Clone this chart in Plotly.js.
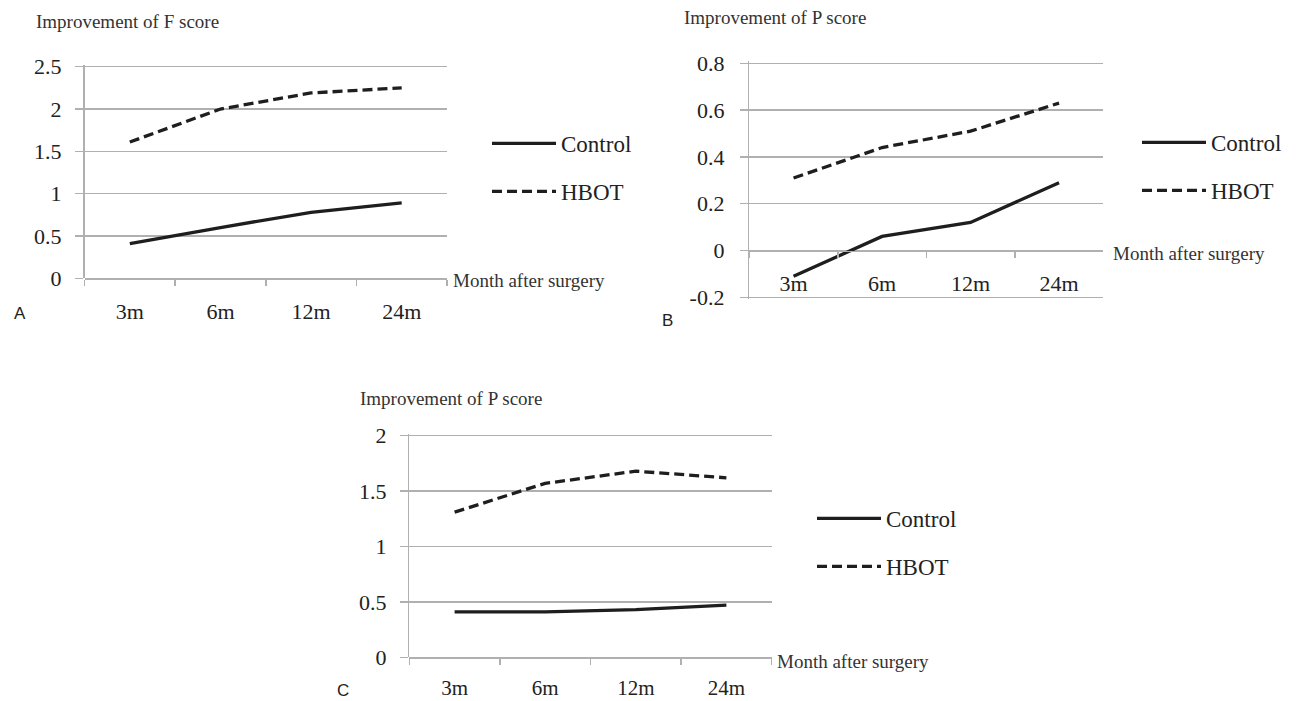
<!DOCTYPE html>
<html>
<head>
<meta charset="utf-8">
<script src="https://cdn.plot.ly/plotly-3.0.1.min.js"></script>
<style>
  html, body { margin: 0; padding: 0; background: #fff; }
  #chart { width: 1308px; height: 701px; }
</style>
</head>
<body>
<div id="chart"></div>
<script>
// ---- data ----
const categories = ['3m', '6m', '12m', '24m'];
const seriesNames = ['Control', 'HBOT'];

// Panel A: Improvement of F score
const controlF = [0.41, 0.60, 0.78, 0.89];
const hbotF = [1.61, 2.00, 2.19, 2.25];

// Panel B: Improvement of P score
const controlPB = [-0.11, 0.06, 0.12, 0.29];
const hbotPB = [0.31, 0.44, 0.51, 0.63];

// Panel C: Improvement of P score
const controlPC = [0.41, 0.41, 0.43, 0.47];
const hbotPC = [1.31, 1.57, 1.68, 1.62];

// tick labels
const yTicksA = [0, 0.5, 1, 1.5, 2, 2.5];
const yTickTextA = ['0', '0.5', '1', '1.5', '2', '2.5'];
const yTicksB = [-0.2, 0, 0.2, 0.4, 0.6, 0.8];
const yTickTextB = ['-0.2', '0', '0.2', '0.4', '0.6', '0.8'];
const yTicksC = [0, 0.5, 1, 1.5, 2];
const yTickTextC = ['0', '0.5', '1', '1.5', '2'];

const panelTitles = ['Improvement of F score', 'Improvement of P score', 'Improvement of P score'];
const xTitle = 'Month after surgery';
const panelLetters = ['A', 'B', 'C'];

// ---- styling ----
const W = 1308, H = 701;
const px = v => v / W;
const py = v => 1 - v / H;
const GRID = '#b0b0b0';
const INK = '#1e1e1e';
const tickFont = { family: 'Liberation Serif', size: 22, color: '#222' };
const solid = { color: INK, width: 3.3, dash: 'solid' };
const dashed = { color: INK, width: 3.3, dash: '10px,5px' };

function mkTraces(ctrl, hbot, n) {
  const sfx = n === 1 ? '' : String(n);
  return [
    { x: categories, y: ctrl, name: seriesNames[0], type: 'scatter', mode: 'lines',
      line: solid, xaxis: 'x' + sfx, yaxis: 'y' + sfx, legend: 'legend' + sfx,
      legendgroup: 'c' + n, hoverinfo: 'skip' },
    { x: categories, y: hbot, name: seriesNames[1], type: 'scatter', mode: 'lines',
      line: dashed, xaxis: 'x' + sfx, yaxis: 'y' + sfx, legend: 'legend' + sfx,
      legendgroup: 'h' + n, hoverinfo: 'skip' }
  ];
}

const data = [
  ...mkTraces(controlF, hbotF, 1),
  ...mkTraces(controlPB, hbotPB, 2),
  ...mkTraces(controlPC, hbotPC, 3)
];

function xAxis(domain, extra) {
  return Object.assign({
    type: 'category', domain: domain, range: [-0.5, 3.5],
    tickson: 'boundaries', ticks: 'outside', ticklen: 6, tickwidth: 1.5, tickcolor: GRID,
    showline: true, linecolor: GRID, linewidth: 1.5,
    showgrid: false, zeroline: false, tickfont: tickFont, ticklabelstandoff: 13,
    fixedrange: true
  }, extra);
}
// box: pixel geometry of the plot area at the outer gridlines; lo/hi: values there.
// padT / padB: extra pixels of plot area beyond the outer gridlines.
function yAxis(box, lo, hi, padT, padB, vals, text, extra) {
  const k = (hi - lo) / (box.b - box.t);
  return Object.assign({
    domain: [py(box.b + padB), py(box.t - padT)], range: [lo - k * padB, hi + k * padT],
    tickmode: 'array', tickvals: vals, ticktext: text,
    showgrid: true, gridcolor: GRID, gridwidth: 1.5,
    ticks: 'outside', ticklen: 8, tickwidth: 1.5, tickcolor: GRID,
    showline: true, linecolor: GRID, linewidth: 1.5, zeroline: false,
    tickfont: tickFont, ticklabelstandoff: 10, fixedrange: true
  }, extra);
}

// plot-area geometry (pixels in the reference)
const A = { l: 84.5, r: 447, t: 66.7, b: 278.3 };
const B = { l: 749.3, r: 1103.3, t: 63.3, b: 297.3 };
const C = { l: 409.3, r: 771.7, t: 435.7, b: 657.3 };
const bZeroY = B.b - (B.b - B.t) * (0 - yTicksB[0]) / (yTicksB[yTicksB.length - 1] - yTicksB[0]);
const PADT = 2, PADB = 2;

function legendAt(xPix, yPix) {
  return {
    x: px(xPix), y: py(yPix), xanchor: 'left', yanchor: 'top',
    bgcolor: 'rgba(0,0,0,0)', borderwidth: 0,
    font: { family: 'Liberation Serif', size: 23, color: '#222' },
    traceorder: 'grouped', tracegroupgap: 15, itemwidth: 64
  };
}

const annFontTitle = { family: 'Liberation Serif', size: 19, color: '#333' };
const annFontLetter = { family: 'Liberation Sans', size: 17, color: '#222' };
function ann(text, xPix, yPix, font) {
  return { text: text, x: px(xPix), y: py(yPix), xref: 'paper', yref: 'paper',
           xanchor: 'left', yanchor: 'middle', showarrow: false, font: font };
}

const layout = {
  width: W, height: H,
  margin: { l: 0, r: 0, t: 0, b: 0 },
  paper_bgcolor: '#fff', plot_bgcolor: 'rgba(0,0,0,0)',
  showlegend: true,
  xaxis: xAxis([px(A.l), px(A.r)], { anchor: 'free', position: py(A.b) }),
  yaxis: yAxis(A, 0, 2.5, PADT, 0, yTicksA, yTickTextA, { anchor: 'x', ticklabelstandoff: 9 }),
  xaxis2: xAxis([px(B.l), px(B.r)], { anchor: 'free', position: py(bZeroY) }),
  yaxis2: yAxis(B, -0.2, 0.8, PADT, PADB, yTicksB, yTickTextB, { anchor: 'x2', ticklabelstandoff: 11 }),
  xaxis3: xAxis([px(C.l), px(C.r)], { anchor: 'free', position: py(C.b), ticklabelstandoff: 11,
                 tickfont: { family: 'Liberation Serif', size: 21, color: '#222' } }),
  yaxis3: yAxis(C, 0, 2, PADT, 0, yTicksC, yTickTextC, { anchor: 'x3', ticklabelstandoff: 9 }),
  legend: legendAt(487, 122),
  legend2: legendAt(1137, 121),
  legend3: legendAt(812, 497),
  annotations: [
    ann(panelTitles[0], 34, 22, annFontTitle),
    ann(panelTitles[1], 682, 18, annFontTitle),
    ann(panelTitles[2], 358, 398, annFontTitle),
    ann(xTitle, 451, 281, annFontTitle),
    ann(xTitle, 1111, 254, annFontTitle),
    ann(xTitle, 775, 661, annFontTitle),
    ann(panelLetters[0], 12, 313, annFontLetter),
    ann(panelLetters[1], 660, 320, annFontLetter),
    ann(panelLetters[2], 335, 690, annFontLetter)
  ]
};

Plotly.newPlot('chart', data, layout, { staticPlot: true, displayModeBar: false });
</script>
</body>
</html>
